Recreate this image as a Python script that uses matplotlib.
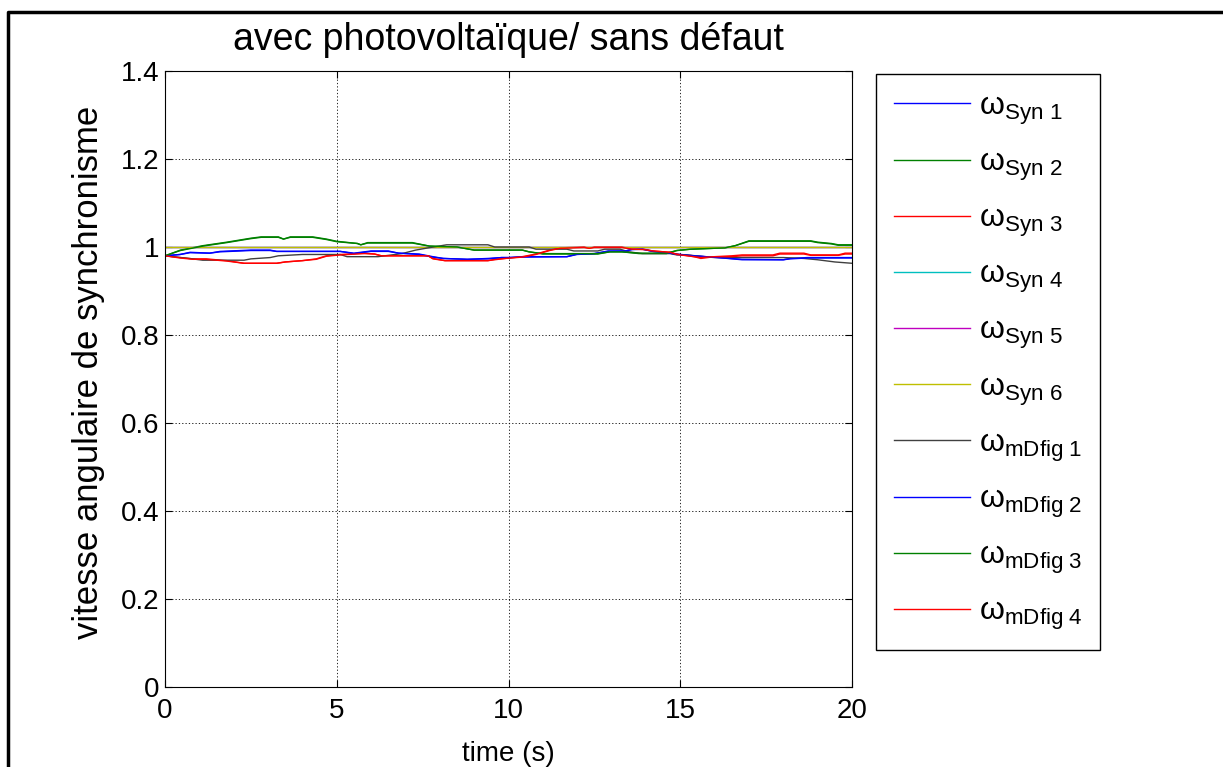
import matplotlib
matplotlib.use("Agg")
import matplotlib.pyplot as plt
from matplotlib.lines import Line2D

plt.rcParams["font.family"] = ["Liberation Sans", "DejaVu Sans"]
plt.rcParams["mathtext.fontset"] = "custom"
plt.rcParams["mathtext.rm"] = "Liberation Sans"
plt.rcParams["mathtext.it"] = "Liberation Sans"
plt.rcParams["mathtext.bf"] = "Liberation Sans:bold"

# ---- rotor speeds (p.u.) versus time (s) ----
t_syn1 = [0, 0.44, 0.73, 1.3, 1.6, 2.5, 3.06, 3.25, 5.1, 5.5, 6.0, 6.5, 6.8, 7.4, 7.8, 8.1,
          8.8, 9.4, 9.8, 10.0, 10.4, 11.7, 12.0, 12.5, 12.9, 13.4, 13.6, 13.9, 14.2, 14.7,
          14.9, 15.4, 16.1, 16.8, 18.0, 18.2, 18.7, 20]
w_syn1 = [0.980, 0.983, 0.988, 0.986, 0.990, 0.993, 0.993, 0.990, 0.990, 0.986, 0.991, 0.991,
          0.986, 0.984, 0.978, 0.974, 0.972, 0.974, 0.976, 0.976, 0.978, 0.978, 0.984, 0.985,
          0.991, 0.991, 0.995, 0.995, 0.990, 0.986, 0.984, 0.980, 0.976, 0.971, 0.971, 0.974,
          0.976, 0.976]

t_syn2 = [0, 0.45, 1.1, 1.8, 2.5, 2.8, 3.3, 3.45, 3.65, 4.3, 4.7, 5.0, 5.6, 5.7, 5.9, 7.2,
          7.7, 8.5, 9.0, 10.4, 10.6, 11.0, 12.6, 12.95, 13.3, 13.8, 14.6, 14.9, 15.3, 16.3,
          16.6, 17.0, 18.8, 19.0, 19.4, 19.6, 20]
w_syn2 = [0.980, 0.993, 1.003, 1.011, 1.020, 1.023, 1.023, 1.018, 1.023, 1.023, 1.018, 1.013,
          1.008, 1.005, 1.010, 1.010, 1.002, 1.000, 0.993, 0.993, 0.989, 0.984, 0.984, 0.989,
          0.989, 0.985, 0.985, 0.992, 0.995, 0.998, 1.003, 1.014, 1.014, 1.011, 1.008, 1.005,
          1.005]

t_syn3 = [0, 0.44, 0.82, 1.2, 1.8, 2.3, 3.25, 3.5, 4.0, 4.4, 4.7, 5.1, 5.8, 6.1, 6.3, 7.66,
          7.8, 8.15, 9.4, 9.6, 9.9, 10.4, 10.8, 11.2, 11.5, 12.2, 12.35, 12.5, 13.3, 13.6,
          13.95, 14.2, 14.7, 14.9, 15.4, 15.6, 16.0, 16.5, 16.8, 17.7, 17.9, 18.6, 18.8,
          19.6, 19.8, 20]
w_syn3 = [0.980, 0.976, 0.973, 0.973, 0.969, 0.963, 0.963, 0.966, 0.969, 0.973, 0.980, 0.983,
          0.986, 0.984, 0.980, 0.980, 0.974, 0.969, 0.969, 0.972, 0.974, 0.978, 0.984, 0.993,
          0.998, 1.000, 0.997, 1.000, 1.000, 0.995, 0.995, 0.991, 0.988, 0.984, 0.978, 0.974,
          0.978, 0.980, 0.982, 0.982, 0.986, 0.986, 0.982, 0.982, 0.986, 0.986]

t_syn4 = [0, 20]
w_syn4 = [1.0, 1.0]
t_syn5 = [0, 20]
w_syn5 = [1.0, 1.0]
t_syn6 = [0, 20]
w_syn6 = [1.0, 1.0]

t_dfig1 = [0, 0.7, 1.1, 2.3, 2.5, 3.06, 3.3, 4.0, 5.1, 5.3, 6.2, 6.9, 7.3, 7.66, 8.2, 9.4,
           9.6, 10.6, 10.8, 11.7, 11.9, 12.6, 12.8, 13.25, 13.5, 13.9, 14.7, 14.9, 15.2,
           15.7, 16.0, 17.3, 18.0, 18.6, 19.0, 19.5, 20]
w_dfig1 = [0.980, 0.974, 0.970, 0.970, 0.973, 0.976, 0.980, 0.983, 0.983, 0.978, 0.978,
           0.985, 0.993, 0.998, 1.005, 1.005, 1.000, 1.000, 0.995, 0.995, 0.991, 0.991,
           0.995, 0.995, 0.989, 0.985, 0.985, 0.982, 0.982, 0.978, 0.976, 0.976, 0.976,
           0.974, 0.971, 0.966, 0.963]

t_dfig2 = [0, 0.44, 0.73, 1.3, 1.6, 2.5, 3.06, 3.25, 5.1, 5.5, 6.0, 6.5, 6.8, 7.4, 7.8, 8.1,
           8.8, 9.4, 9.8, 10.0, 10.4, 11.7, 12.0, 12.5, 12.9, 13.4, 13.6, 13.9, 14.2, 14.7,
           14.9, 15.4, 16.1, 16.8, 18.0, 18.2, 18.7, 20]
w_dfig2 = [0.980, 0.983, 0.987, 0.986, 0.989, 0.992, 0.992, 0.990, 0.990, 0.985, 0.990, 0.990,
           0.986, 0.983, 0.977, 0.974, 0.972, 0.973, 0.976, 0.976, 0.977, 0.978, 0.983, 0.985,
           0.990, 0.991, 0.994, 0.995, 0.990, 0.986, 0.983, 0.980, 0.976, 0.972, 0.971, 0.973,
           0.975, 0.975]

t_dfig3 = [0, 0.45, 1.1, 1.8, 2.5, 2.8, 3.3, 3.45, 3.65, 4.3, 4.7, 5.0, 5.6, 5.7, 5.9, 7.2,
           7.7, 8.5, 9.0, 10.4, 10.6, 11.0, 12.6, 12.95, 13.3, 13.8, 14.6, 14.9, 15.3, 16.3,
           16.6, 17.0, 18.8, 19.0, 19.4, 19.6, 20]
w_dfig3 = [0.980, 0.992, 1.002, 1.010, 1.019, 1.022, 1.022, 1.018, 1.022, 1.022, 1.017, 1.012,
           1.008, 1.005, 1.009, 1.009, 1.002, 1.000, 0.993, 0.993, 0.989, 0.985, 0.985, 0.989,
           0.989, 0.986, 0.986, 0.992, 0.995, 0.998, 1.003, 1.013, 1.013, 1.010, 1.007, 1.004,
           1.004]

t_dfig4 = [0, 0.44, 0.82, 1.2, 1.8, 2.3, 3.25, 3.5, 4.0, 4.4, 4.7, 5.1, 5.8, 6.1, 6.3, 7.66,
           7.8, 8.15, 9.4, 9.6, 9.9, 10.4, 10.8, 11.2, 11.5, 12.2, 12.35, 12.5, 13.3, 13.6,
           13.95, 14.2, 14.7, 14.9, 15.4, 15.6, 16.0, 16.5, 16.8, 17.7, 17.9, 18.6, 18.8,
           19.6, 19.8, 20]
w_dfig4 = [0.980, 0.975, 0.972, 0.972, 0.968, 0.963, 0.963, 0.966, 0.969, 0.972, 0.979, 0.982,
           0.985, 0.984, 0.980, 0.980, 0.973, 0.969, 0.969, 0.971, 0.974, 0.977, 0.983, 0.992,
           0.997, 0.999, 0.997, 0.999, 0.999, 0.995, 0.994, 0.991, 0.988, 0.983, 0.978, 0.976,
           0.978, 0.978, 0.980, 0.980, 0.984, 0.984, 0.981, 0.981, 0.984, 0.984]

labels = ["Syn 1", "Syn 2", "Syn 3", "Syn 4", "Syn 5", "Syn 6",
          "mDfig 1", "mDfig 2", "mDfig 3", "mDfig 4"]
colors = [(0, 0, 1), (0, 0.5, 0), (1, 0, 0), (0, 0.75, 0.75), (0.75, 0, 0.75),
          (0.75, 0.75, 0), (0.25, 0.25, 0.25), (0, 0, 1), (0, 0.5, 0), (1, 0, 0)]
series = [(t_syn1, w_syn1), (t_syn2, w_syn2), (t_syn3, w_syn3), (t_syn4, w_syn4),
          (t_syn5, w_syn5), (t_syn6, w_syn6), (t_dfig1, w_dfig1), (t_dfig2, w_dfig2),
          (t_dfig3, w_dfig3), (t_dfig4, w_dfig4)]

x_ticks = [0, 5, 10, 15, 20]
y_ticks = [0, 0.2, 0.4, 0.6, 0.8, 1.0, 1.2, 1.4]
y_ticklabels = ["0", "0.2", "0.4", "0.6", "0.8", "1", "1.2", "1.4"]

fig = plt.figure(figsize=(12.23, 7.67), dpi=100)
ax = fig.add_axes([165 / 1223, 1 - 687 / 767, 687 / 1223, 616 / 767])

handles = []
for (t, w), c, lab in zip(series, colors, labels):
    h, = ax.plot(t, w, color=c, lw=1.0,
                 label=r"$\mathrm{\omega}_{\mathrm{" + lab.replace(" ", r"\ ") + "}}$")
    handles.append(h)

ax.set_xlim(0, 20)
ax.set_ylim(0, 1.4)
ax.set_xticks(x_ticks)
ax.set_yticks(y_ticks)
ax.set_yticklabels(y_ticklabels)
ax.tick_params(direction="in", length=5, width=0.8, labelsize=20, colors="black",
               top=True, right=True)
ax.tick_params(axis="x", pad=8)
ax.tick_params(axis="y", pad=4)
ax.grid(True, color="black", linestyle=(0, (1.5, 2.5)), linewidth=0.6)
for sp in ax.spines.values():
    sp.set_linewidth(0.8)
    sp.set_color("black")

ax.set_title("avec photovoltaïque/ sans défaut", fontsize=27, pad=15)
ax.set_xlabel("time (s)", fontsize=20, labelpad=12)
ax.set_ylabel("vitesse angulaire de synchronisme", fontsize=25)
ax.yaxis.set_label_coords(-0.087, 0.51)

leg = ax.legend(handles=handles, loc="upper left",
                bbox_to_anchor=(876 / 1223, 1 - 74 / 767), bbox_transform=fig.transFigure,
                borderaxespad=0, fontsize=23, handlelength=2.4, handletextpad=0.28,
                labelspacing=0.66, borderpad=0.55, fancybox=False, framealpha=1)
leg.get_frame().set_edgecolor("black")
leg.get_frame().set_linewidth(1.0)

# figure border
fig.add_artist(Line2D([8 / 1223, 8 / 1223, 1], [0, 1 - 12 / 767, 1 - 12 / 767],
                      transform=fig.transFigure, color="black", lw=2.5))

fig.savefig("out.png", dpi=100)
